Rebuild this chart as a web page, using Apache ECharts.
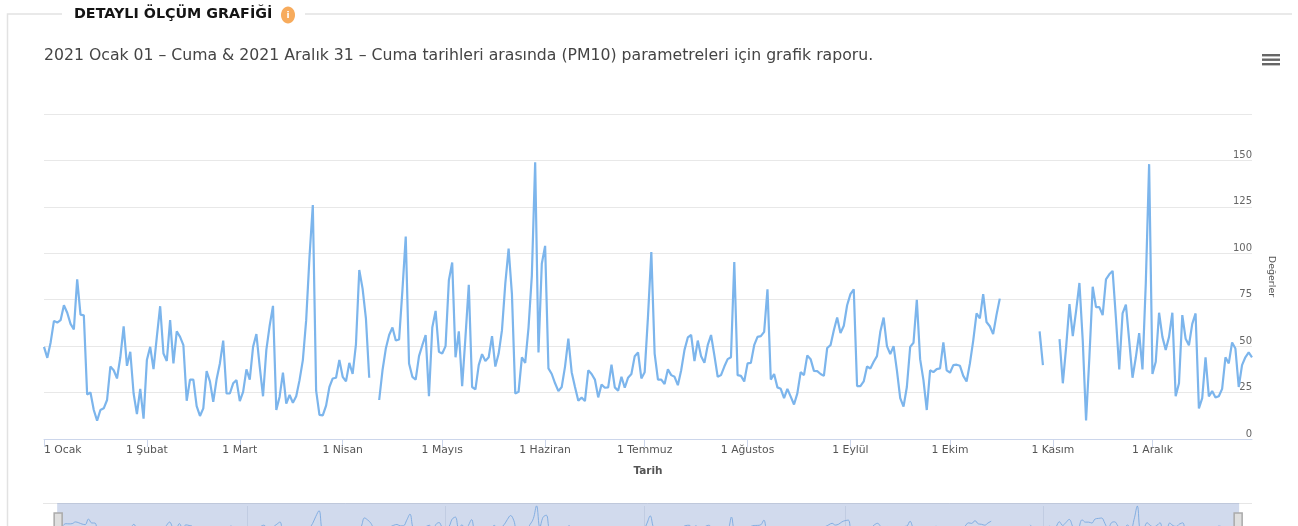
<!DOCTYPE html>
<html>
<head>
<meta charset="utf-8">
<style>html,body{margin:0;padding:0;background:#fff;overflow:hidden}#c{width:1298px;height:526px}</style>
<script src="https://cdn.jsdelivr.net/npm/echarts@6/dist/echarts.min.js"></script>
</head>
<body>
<div id="c"></div>
<script>
const headingText = 'DETAYLI ÖLÇÜM GRAFİĞİ';
const subtitleText = '2021 Ocak 01 – Cuma & 2021 Aralık 31 – Cuma tarihleri arasında (PM10) parametreleri için grafik raporu.';
const xAxisName = 'Tarih';
const yAxisName = 'Değerler';
const monthNames = ['Ocak','Şubat','Mart','Nisan','Mayıs','Haziran','Temmuz','Ağustos','Eylül','Ekim','Kasım','Aralık'];
const navigatorMonths = ['Mart','Mayıs','Temmuz','Eylül','Kasım'];
const yTicks = [0,25,50,75,100,125,150];
const jan = [49.6,43.7,52,63.6,62.7,64,72,68,62,59,86,67,66.6,24,25,15.6,9.9,15.6,16.5,21,39,37,32.6,44,60.7,39.4,47,24.5,13.4,27,11];
const feb = [42.5,49.6,37.6,55,71.5,46,42,64,40.7,58,55,50.5,20.6,32,32,17.7,12.4,16.5,36.5,31,20,32,40.7,53,24.5,24.5,30,31.7];
const mar = [20.4,25.4,37.5,32,49.6,56.5,39,23,48,61,71.7,15.6,22.8,35.7,19,23.7,19.5,23,31.7,42.5,64,98,126,26,13,12.7,18,28,32.6,33,42.5];
const apr = [33.5,31,41,35,51,91,81,65,33,null,null,21,37,48.7,56,60,53,53.6,80,109,40.7,33.5,32,44.6,50.5,56,23,60,69,47];
const may = [46,50,85.5,95,44,58,28.5,55,83,28,26.7,39.8,45.7,42,44,55.4,39,46,58.6,83.7,102.5,78,24.5,25.4,44,41,60,88,149,46.6,94.4];
const jun = [104,38,35,30,25.8,28,39,54,36,28,20.6,22.4,20.4,37,35,32,22.4,29.4,27.6,27.8,40,27.8,26,33.5,27.6,33,35,44.6,46.6,32.6];
const jul = [36,66,100.7,46,32,32,29.6,37.5,34.4,33.5,29,37,48,54.7,56,42,53,44.6,41,50.5,56,45,33.5,34.4,39,43,44,95.3,34.4,34,31];
const aug = [40.7,41,50.5,55,55.4,57.7,80.6,32,35,27.8,27,22,27,22.8,18.6,24.6,36,34.4,45,43,36.7,36.5,35,34,49,50.5,58.6,65.4,57,61,72];
const sep = [78,80.6,28.5,28.5,31,39,38,41.6,44.6,57.7,65.4,50,45.7,50,37,22,17.4,28,49.6,51.8,75,43,31.7,15.6,37,36,37.6,38,52,37];
const oct = [35.7,39.8,40,39.4,34,31,40.7,53,67.6,65,78,63,60.7,56.5,66.7,75.6,null,null,null,null,null,null,null,null,null,null,null,58,39.8,null,null];
const nov = [null,null,53.8,30,49.6,72.6,55.4,69,84,53,10,44,82,71,71,66.7,86,88.7,90.5,65,37.5,67.6,72.4,53,33,44,57,37.5,84,148];
const dec = [35,41.6,68,55,48,55,68,23,30,66.7,54,50.5,62,67.6,16.5,22,44,23,25.8,22.4,23,27,44,40.7,52,48.7,28,39.8,44,46.6,44];

const months = [jan,feb,mar,apr,may,jun,jul,aug,sep,oct,nov,dec];
const values = [].concat(...months);
const categories = [];
months.forEach((m, mi) => m.forEach((_, di) => categories.push((di + 1) + ' ' + monthNames[mi])));
const isMonthStart = (i, v) => String(v).startsWith('1 ');
const isNavigatorLine = (i, v) => navigatorMonths.some(n => v === '1 ' + n);

const FONT = '"DejaVu Sans", Verdana, sans-serif';
const chart = echarts.init(document.getElementById('c'), null, {renderer:'canvas'});
chart.setOption({
  animation:false,
  backgroundColor:'#fff',
  textStyle:{fontFamily:FONT},
  title:[
    {text:headingText,left:69,top:2,textStyle:{fontFamily:FONT,fontSize:14.3,fontWeight:'bold',color:'#141414'}},
    {text:subtitleText,left:39,top:43,textStyle:{fontFamily:FONT,fontSize:15.7,fontWeight:'normal',color:'#444'}}
  ],
  grid:[
    {left:44,right:46,top:114,height:325,containLabel:false,outerBoundsMode:'none'},
    {left:56,right:60,top:506,height:31,containLabel:false,outerBoundsMode:'none'}
  ],
  xAxis:[
    {type:'category',gridIndex:0,data:categories,boundaryGap:false,name:xAxisName,nameLocation:'middle',nameGap:27,
     nameTextStyle:{fontFamily:FONT,fontSize:10.5,fontWeight:'bold',color:'#555'},
     axisLine:{lineStyle:{color:'#ccd6eb',width:1}},
     axisTick:{show:true,alignWithLabel:true,interval:isMonthStart,length:8,lineStyle:{color:'#ccd6eb'}},
     axisLabel:{interval:isMonthStart,margin:6,fontFamily:FONT,fontSize:10.8,color:'#555',alignMinLabel:'left',hideOverlap:false},
     splitLine:{show:false}},
    {type:'category',gridIndex:1,data:categories,boundaryGap:false,
     axisLine:{show:false},axisTick:{show:false},axisLabel:{show:false},
     splitLine:{show:true,interval:isNavigatorLine,lineStyle:{color:'rgba(120,130,160,0.16)'}}}
  ],
  yAxis:[
    {type:'value',gridIndex:0,position:'right',min:0,max:175,interval:25,name:yAxisName,nameLocation:'middle',nameGap:14,nameRotate:-90,
     nameTextStyle:{fontFamily:FONT,fontSize:9.5,color:'#555'},
     axisLine:{show:false},axisTick:{show:false},
     axisLabel:{inside:true,margin:0,verticalAlign:'bottom',fontFamily:FONT,fontSize:10,color:'#666',
       formatter:v => yTicks.includes(v) ? String(v) : ''},
     splitLine:{lineStyle:{color:'#e8e8e8',width:1}}},
    {type:'value',gridIndex:1,min:0,max:148,show:false,splitLine:{show:false}}
  ],
  dataZoom:[{
    type:'slider',xAxisIndex:[0],left:56,right:60,top:503,height:40,start:0,end:100,
    showDetail:false,showDataShadow:false,brushSelect:false,realtime:false,moveHandleSize:0,
    backgroundColor:'rgba(0,0,0,0)',borderColor:'rgba(0,0,0,0)',fillerColor:'rgba(102,133,194,0.3)',
    handleIcon:'path://M0,0H8V20H0Z',handleSize:'50%',
    handleStyle:{color:'#dfdfdf',borderColor:'#aaaaaa',borderWidth:1.5}
  }],
  series:[
    {type:'line',xAxisIndex:0,yAxisIndex:0,data:values,showSymbol:false,connectNulls:false,silent:true,clip:true,
     lineStyle:{color:'#7cb5ec',width:2.2},itemStyle:{color:'#7cb5ec'}},
    {type:'line',xAxisIndex:1,yAxisIndex:1,data:values,showSymbol:false,connectNulls:false,silent:true,smooth:0.4,
     lineStyle:{color:'#7cb5ec',width:1,opacity:0.85},itemStyle:{color:'#7cb5ec'}}
  ],
  graphic:[
    {type:'polyline',silent:true,shape:{points:[[7.5,526],[7.5,14],[62,14]]},style:{fill:null,stroke:'#e2e2e2',lineWidth:1.5}},
    {type:'line',silent:true,shape:{x1:305,y1:14,x2:1292,y2:14},style:{stroke:'#e2e2e2',lineWidth:1.5}},
    {type:'ellipse',silent:true,shape:{cx:288,cy:15,rx:7,ry:8.5},style:{fill:'#f7ab5c'}},
    {type:'text',silent:true,x:288,y:16,style:{text:'i',fill:'#fff',font:'bold 9px '+FONT,align:'center',verticalAlign:'middle'}},
    {type:'rect',silent:true,shape:{x:1262,y:54,width:18,height:2.4},style:{fill:'#666'}},
    {type:'rect',silent:true,shape:{x:1262,y:58.5,width:18,height:2.4},style:{fill:'#666'}},
    {type:'rect',silent:true,shape:{x:1262,y:63,width:18,height:2.4},style:{fill:'#666'}},
    {type:'line',silent:true,shape:{x1:43,y1:503.5,x2:1252,y2:503.5},style:{stroke:'#e6e6e6',lineWidth:1}}
  ]
});
</script>
</body>
</html>
